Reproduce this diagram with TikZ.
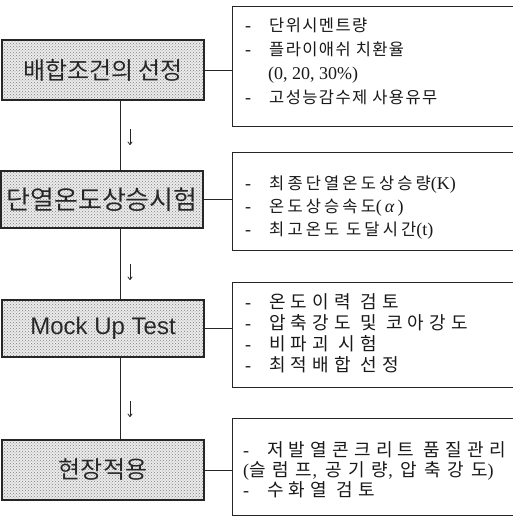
\documentclass[tikz,border=0pt]{standalone}
\usepackage{fontspec}
\setmainfont{Liberation Serif}
\newfontfamily\kr{Noto Sans CJK KR}
\newfontfamily\krA[LetterSpace=8.5]{Noto Sans CJK KR}
\newfontfamily\krB[LetterSpace=19]{Noto Sans CJK KR}
\newfontfamily\krC[LetterSpace=29]{Noto Sans CJK KR}
\newfontfamily\krD[LetterSpace=38]{Noto Sans CJK KR}
\newfontfamily\arialf{Liberation Sans}
\usetikzlibrary{patterns,arrows.meta}
\newcommand\itm{\makebox[24pt][l]{-}}
\newcommand\ka[1]{{\fontsize{16.5}{16.5}\selectfont\krA #1}}
\newcommand\kb[1]{{\fontsize{16.5}{16.5}\selectfont\krB #1}}
\newcommand\kc[1]{{\fontsize{18}{18}\selectfont\krC #1}}
\newcommand\kd[1]{{\fontsize{18}{18}\selectfont\krD #1}}
\begin{document}
\begin{tikzpicture}[x=1pt,y=-1pt,
  stage/.style={draw=black!85, line width=1.1pt, minimum width=202pt, inner sep=0pt,
     preaction={fill=black!8}, pattern=crosshatch dots, pattern color=black!50,
     font=\fontsize{24}{24}\selectfont\kr, text=black!85},
  infobox/.style={draw=black!85, line width=0.9pt, anchor=north west},
  infotext/.style={anchor=west, align=left, inner sep=0pt, text=black!90},
  conn/.style={draw=black!85, line width=0.9pt},
  tick/.style={draw=black!85, line width=0.8pt, -{To[length=3.5pt,width=5pt]}}]
\useasboundingbox (0,0) rectangle (512,516);
\fill[white] (0,0) rectangle (512,516);

% left stage boxes
\node[stage, minimum height=60pt] (b1) at (103,70) {배합조건의 선정};
\node[stage, minimum height=57pt, font=\fontsize{26}{26}\selectfont\kr] (b2) at (102,199.5) {단열온도상승시험};
\node[stage, minimum height=57pt, font=\fontsize{24}{24}\selectfont\arialf] (b3) at (103,328.5) {Mock Up Test};
\node[stage, minimum height=60pt] (b4) at (103,470) {현장적용};

% right info boxes
\node[infobox, minimum width=290pt, minimum height=120pt] (r1) at (232,6) {};
\node[infobox, minimum width=290pt, minimum height=98pt] (r2) at (232,152) {};
\node[infobox, minimum width=290pt, minimum height=105pt] (r3) at (232,282) {};
\node[infobox, minimum width=290pt, minimum height=97pt] (r4) at (232,418) {};

% texts in info boxes
\node[infotext, font=\fontsize{18}{24}\selectfont] (t1) at (245,61) {%
\itm\ka{단위시멘트량}\\
\itm\ka{플라이애쉬 치환율}\\
\hspace*{23pt}(0, 20, 30\%)\\
\itm\ka{고성능감수제 사용유무}};
\node[infotext, font=\fontsize{18}{23}\selectfont] (t2) at (245,208) {%
\itm\kb{최종단열온도상승량}(K)\\
\itm\kb{온도상승속도}(\,\textit{α}\,)\\
\itm\kb{최고온도 도달시간}(t)};
\node[infotext, font=\fontsize{18}{21}\selectfont] (t3) at (245,333.5) {%
\itm\kc{온도이력 검토}\\
\itm\kc{압축강도 및 코아강도}\\
\itm\kc{비파괴 시험}\\
\itm\kc{최적배합 선정}};
\node[infotext, font=\fontsize{18}{20}\selectfont] (t4) at (243,470) {%
\itm\kc{저발열콘크리트 품질관리}\\
(\kd{슬럼프},\hspace{8pt}\kd{공기량},\hspace{8pt}\kd{압축강도})\\
\itm\kc{수화열 검토}};

% spine
\coordinate (sp) at (120,0);
\draw[conn] (b1.south -| sp) -- (b2.north -| sp);
\draw[conn] (b2.south -| sp) -- (b3.north -| sp);
\draw[conn] (b3.south -| sp) -- (b4.north -| sp);

% horizontal connectors
\draw[conn] (b1.east) -- (b1.east -| r1.west);
\draw[conn] (b2.east) -- (b2.east -| r2.west);
\draw[conn] (b3.east) -- (b3.east -| r3.west);
\draw[conn] (b4.east) -- (b4.east -| r4.west);

% small down arrows
\coordinate (a1s) at (130,129); \coordinate (a1e) at (130,145);
\coordinate (a2s) at (130,264); \coordinate (a2e) at (130,280);
\coordinate (a3s) at (130,401); \coordinate (a3e) at (130,417);
\draw[tick] (a1s) -- (a1e);
\draw[tick] (a2s) -- (a2e);
\draw[tick] (a3s) -- (a3e);
\end{tikzpicture}
\end{document}
